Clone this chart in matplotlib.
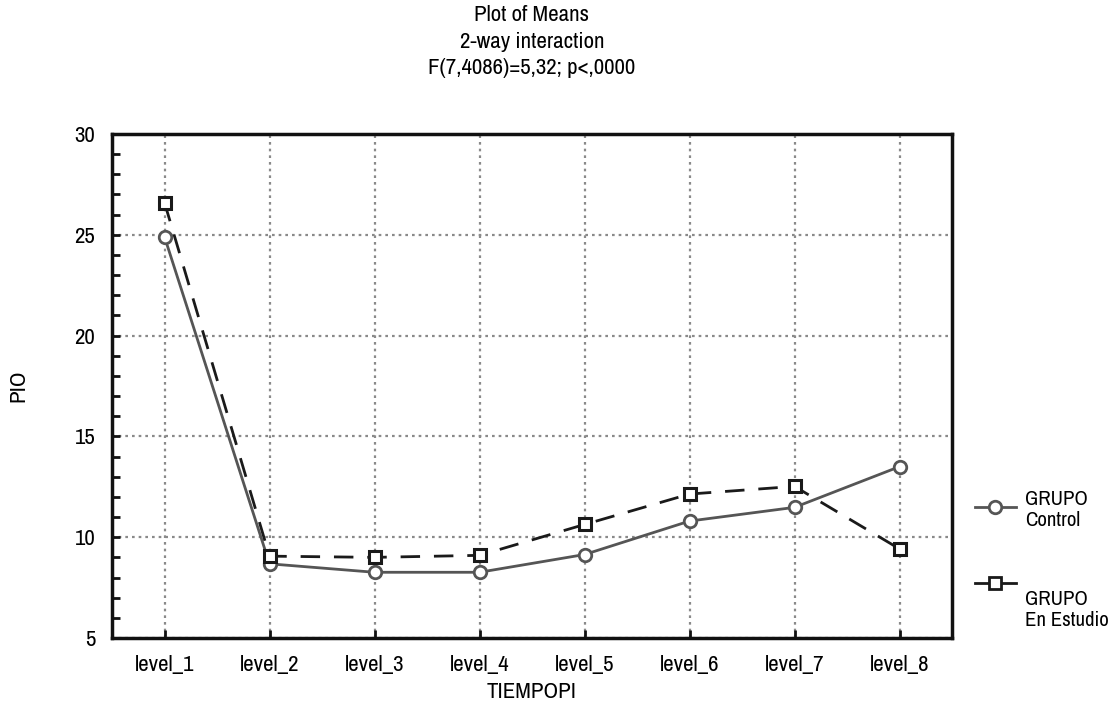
import matplotlib
matplotlib.use("Agg")
import matplotlib.pyplot as plt
from matplotlib import font_manager
from matplotlib.lines import Line2D
from matplotlib.ticker import MultipleLocator

# pick a narrow face if one is installed
installed = font_manager.fontManager.ttflist
narrow = [f for f in installed if "Narrow" in f.name or "Condensed" in f.name]
if narrow:
    plt.rcParams['font.family'] = [narrow[0].name, 'DejaVu Sans']
else:
    plt.rcParams['font.family'] = ['DejaVu Sans']
    plt.rcParams['font.stretch'] = 'condensed'

levels = ["level_1", "level_2", "level_3", "level_4", "level_5", "level_6", "level_7", "level_8"]
control = [24.9, 8.68, 8.26, 8.26, 9.14, 10.8, 11.48, 13.5]
estudio = [26.6, 9.06, 9.0, 9.1, 10.63, 12.14, 12.52, 9.42]
title_lines = ["Plot of Means", "2-way interaction", "F(7,4086)=5,32; p<,0000"]

FS = 16.5
W, H = 1110, 719
fig = plt.figure(figsize=(W / 100, H / 100), dpi=100)
ax = fig.add_axes([112 / W, 1 - 638 / H, (952 - 112) / W, (638 - 134) / H])

x = list(range(1, len(levels) + 1))
gray = "#555555"
dark = "#1a1a1a"

ax.plot(x, control, color=gray, lw=2, marker="o", ms=9, mfc="white",
        mec=gray, mew=2, zorder=3)
ax.plot(x, estudio, color=dark, lw=2, dashes=(7, 5), marker="s", ms=9,
        mfc="white", mec=dark, mew=2.2, zorder=3)

ax.set_xlim(0.5, len(levels) + 0.5)
ax.set_ylim(5, 30)
ax.set_xticks(x)
ax.set_xticklabels(levels)
ax.yaxis.set_major_locator(MultipleLocator(5))
ax.yaxis.set_minor_locator(MultipleLocator(1))
ax.tick_params(axis="both", which="both", direction="in", width=2,
               color="#111111", labelsize=FS)
ax.tick_params(axis="y", which="both", length=6, pad=12)
ax.tick_params(axis="x", which="major", length=6, pad=12)
ax.grid(True, which="major", linestyle=(0, (1.2, 1.8)), color="#8a8a8a", lw=1.6)
for s in ax.spines.values():
    s.set_linewidth(2.5)
    s.set_color("#111111")

ax.set_ylabel("PIO", fontsize=FS)
ax.yaxis.set_label_coords((18 - 112) / 840, 0.5)
ax.set_xlabel("TIEMPOPI", fontsize=FS)
ax.xaxis.set_label_coords(0.5, -(692 - 638) / 504)
ax.xaxis.label.set_va("center")
ax.yaxis.label.set_va("center")

for i, t in enumerate(title_lines):
    fig.text(532 / W, 1 - (15 + 26.5 * i) / H, t, ha="center", va="center", fontsize=FS)

# legend drawn at the right of the axes
legend_items = [("GRUPO\nControl", gray, "o", 507, 510),
                ("GRUPO\nEn Estudio", dark, "s", 583, 610)]
for label, c, m, yh, yt in legend_items:
    fig.add_artist(Line2D([975 / W, 1016 / W], [1 - yh / H, 1 - yh / H],
                          color=c, lw=2, transform=fig.transFigure))
    fig.add_artist(Line2D([995 / W], [1 - yh / H], color=c, marker=m, ms=9,
                          mfc="white", mec=c, mew=2, transform=fig.transFigure))
    fig.text(1025 / W, 1 - yt / H, label, ha="left", va="center", fontsize=15,
             linespacing=1.15)

fig.savefig("out.png", dpi=100)
